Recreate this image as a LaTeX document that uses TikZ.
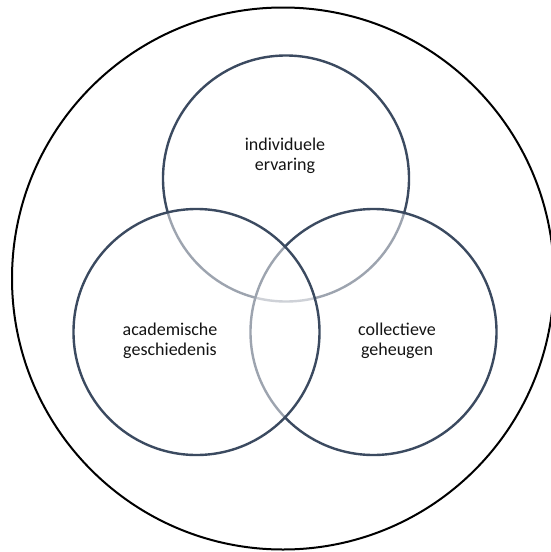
\documentclass[tikz,border=0pt]{standalone}
\usepackage{fontspec}
\setmainfont{Carlito}
\usepackage{tikz}
\usetikzlibrary{positioning}
\definecolor{vennline}{RGB}{59,74,96}
\definecolor{venntext}{RGB}{20,20,20}
\tikzset{venn/.style={circle,draw=vennline,line width=2.4pt,fill=white,fill opacity=0.5,text opacity=1,inner sep=0pt,minimum size=246pt}}
\tikzset{venntag/.style={align=center,text=venntext,font=\fontsize{18}{20.4}\selectfont}}
\begin{document}
\begin{tikzpicture}[x=1pt,y=-1pt]
	\useasboundingbox (0,0) rectangle (551,552);

	% outer domain
	\node (domain) [circle,draw=black,line width=2pt,inner sep=0pt,minimum size=542pt] at (283,278.5) {};

	% the three fields, drawn top, right, left
	\node (ind) [venn] at (286,178.5) {};
	\node (col) [venn] at (373.5,332) {};
	\node (aca) [venn] at (196.5,332) {};

	\node (indtxt) [venntag] at (285,156) {individuele\\ervaring};
	\node (acatxt) [venntag] at (170,341) {academische\\geschiedenis};
	\node (coltxt) [venntag] at (397,341) {collectieve\\geheugen};
\end{tikzpicture}
\end{document}
